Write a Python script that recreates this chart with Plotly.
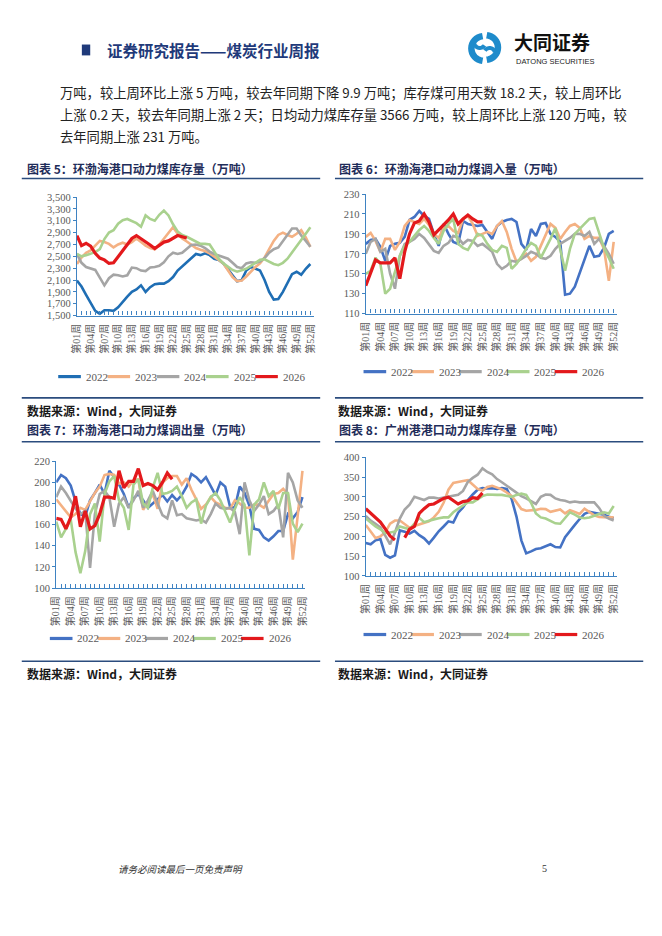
import plotly.graph_objects as go

W, H = 662, 936

weeks = ["第%02d周" % i for i in range(1, 53)]
years = ["2022", "2023", "2024", "2025", "2026"]
week_labels = [w if i % 3 == 0 else "" for i, w in enumerate(weeks)]

# 图表5：环渤海港口动力煤库存量（万吨）
stock_2022 = [2090, 1990, 1850, 1710, 1580, 1530, 1590, 1590, 1580, 1640,
              1740, 1820, 1900, 1940, 2010, 1900, 1980, 2030, 2040, 2040,
              2080, 2150, 2260, 2330, 2400, 2480, 2540, 2520, 2550, 2520,
              2460, 2440, 2380, 2280, 2180, 2080, 2100, 2260, 2320, 2290,
              2260, 2100, 1900, 1770, 1780, 1900, 2050, 2200, 2240, 2190,
              2290, 2370]
stock_2023 = [2370, 2480, 2560, 2600, 2680, 2760, 2740, 2710, 2650, 2700,
              2730, 2700, 2740, 2800, 2740, 2680, 2640, 2620, 2700, 2800,
              2880, 2990, 2880, 2800, 2750, 2700, 2640, 2610, 2590, 2550,
              2500, 2440, 2380, 2260, 2150, 2080, 2090, 2160, 2240, 2320,
              2380, 2480, 2620, 2760, 2860, 2900, 2860, 2830, 2880, 2940,
              2820, 2660]
stock_2024 = [2540, 2390, 2320, 2290, 2270, 2140, 2010, 2130, 2190, 2180,
              2160, 2180, 2310, 2300, 2260, 2250, 2310, 2320, 2340, 2400,
              2500, 2560, 2540, 2560, 2620, 2690, 2700, 2680, 2640, 2580,
              2540, 2510, 2490, 2460, 2390, 2320, 2300, 2380, 2400, 2390,
              2410, 2470, 2560, 2620, 2650, 2760, 2880, 2970, 2970, 2850,
              2760, 2660]
stock_2025 = [2540, 2500, 2520, 2540, 2570, 2620, 2790, 2900, 2940, 3050,
              3110, 3130, 3100, 3060, 3000, 3190, 3130, 3100, 3200, 3270,
              3190, 3040, 2920, 2860, 2830, 2790, 2740, 2710, 2710, 2700,
              2580, 2460, 2380, 2320, 2270, 2240, 2260, 2290, 2340, 2390,
              2440, 2450, 2410, 2370, 2350, 2390, 2460, 2560, 2660, 2770,
              2880, 2990]
stock_2026 = [2850, 2680, 2720, 2670, 2550, 2470, 2440, 2380, 2390, 2490,
              2600, 2700, 2800, 2850, 2800, 2750, 2690, 2630, 2690, 2740,
              2760, 2800, 2850, 2830, 2810]

# 图表6：环渤海港口动力煤调入量（万吨）
inflow_2022 = [180, 184, 185, 177, 163, 178, 180, 181, 187, 204,
               207, 213, 208, 205, 190, 178, 200, 190, 182, 180,
               203, 200, 199, 198, 199, 192, 185, 198, 202, 204,
               205, 202, 180, 174, 195, 188, 200, 201, 190, 187,
               182, 129, 130, 137, 150, 163, 178, 167, 168, 176,
               190, 193]
inflow_2023 = [187, 191, 183, 172, 185, 185, 174, 182, 198, 204,
               202, 200, 205, 199, 190, 186, 196, 198, 193, 191,
               205, 208, 200, 188, 190, 192, 190, 198, 203, 192,
               175, 162, 165, 170, 163, 167, 178, 190, 200, 196,
               185, 192, 198, 200, 196, 185, 188, 186, 186, 175,
               143, 182]
inflow_2024 = [170, 182, 185, 172, 175, 150, 135, 168, 180, 182,
               185, 190, 186, 180, 173, 171, 178, 181, 188, 186,
               180, 184, 183, 178, 180, 176, 172, 160, 155, 158,
               163, 162, 165, 168, 172, 170, 166, 165, 168, 175,
               180, 183, 186, 190, 190, 188, 192, 180, 185, 178,
               170, 160]
inflow_2025 = [150, 153, 166, 160, 130, 135, 152, 168, 178, 182,
               188, 194, 198, 193, 186, 180, 193, 200, 205, 180,
               176, 174, 182, 190, 188, 180, 174, 172, 178, 176,
               155, 160, 167, 175, 181, 178, 166, 175, 185, 196,
               176, 153, 175, 190, 195, 200, 205, 206, 192, 176,
               166, 155]
inflow_2026 = [138, 150, 164, 161, 161, 161, 166, 145, 172, 190,
               201, 203, 210, 202, 189, 194, 198, 204, 210, 200,
               205, 209, 205, 202, 202]

# 图表7：环渤海港口动力煤调出量（万吨）
outflow_2022 = [200, 207, 204, 197, 182, 170, 168, 183, 190, 198,
                189, 211, 205, 198, 189, 176, 185, 189, 183, 176,
                180, 184, 188, 182, 188, 183, 188, 196, 208, 205,
                200, 205, 196, 188, 200, 196, 177, 176, 196, 190,
                178, 156, 155, 148, 145, 149, 154, 154, 170, 166,
                172, 186]
outflow_2023 = [184, 178, 172, 167, 170, 176, 174, 182, 190, 196,
                207, 208, 207, 199, 200, 196, 202, 203, 174, 182,
                189, 175, 200, 204, 206, 206, 198, 204, 193, 184,
                175, 179, 186, 181, 179, 176, 175, 183, 180, 176,
                176, 179, 179, 176, 182, 189, 190, 194, 189, 127,
                168, 211]
outflow_2024 = [186, 196, 190, 183, 175, 170, 173, 119, 170, 189,
                192, 186, 158, 180, 186, 176, 183, 192, 176, 183,
                192, 180, 169, 166, 183, 169, 170, 166, 165, 164,
                165, 162, 170, 180, 176, 175, 176, 172, 151, 200,
                183, 173, 179, 187, 170, 173, 179, 148, 209, 200,
                183, 176]
outflow_2025 = [163, 148, 156, 165, 134, 114, 135, 170, 180, 144,
                189, 201, 206, 183, 176, 155, 198, 203, 180, 176,
                195, 209, 189, 190, 192, 196, 187, 176, 181, 184,
                161, 178, 186, 190, 183, 173, 162, 175, 186, 179,
                131, 179, 184, 200, 187, 192, 175, 190, 190, 161,
                153, 161]
outflow_2026 = [166, 165, 156, 167, 187, 158, 173, 156, 159, 170,
                186, 186, 185, 211, 195, 201, 201, 213, 197, 199,
                197, 193, 200, 209, 203]

# 图表8：广州港港口动力煤库存量（万吨）
gz_2022 = [183, 180, 190, 193, 153, 146, 152, 215, 212, 207,
           214, 203, 195, 182, 197, 213, 225, 238, 235, 260,
           273, 292, 306, 318, 322, 321, 322, 320, 322, 320,
           295, 250, 190, 157, 162, 168, 170, 175, 180, 173,
           172, 198, 215, 229, 244, 257, 262, 260, 258, 255,
           250, 246]
gz_2023 = [229, 213, 196, 200, 210, 232, 240, 240, 230, 222,
           226, 230, 234, 238, 248, 262, 285, 318, 335, 338,
           340, 342, 332, 320, 316, 325, 328, 324, 319, 311,
           302, 286, 269, 265, 266, 267, 270, 269, 262, 265,
           268, 258, 266, 262, 257, 270, 262, 253, 249, 248,
           248, 248]
gz_2024 = [252, 240, 232, 223, 202, 180, 210, 245, 268, 280,
           300, 296, 292, 298, 298, 296, 298, 300, 302, 305,
           315, 338, 348, 356, 372, 363, 357, 345, 337, 328,
           318, 310, 302, 296, 290, 282, 300, 306, 305, 296,
           292, 290, 286, 288, 286, 286, 285, 286, 272, 252,
           245, 240]
gz_2025 = [245, 235, 225, 218, 208, 210, 212, 225, 222, 218,
           232, 247, 236, 240, 243, 246, 248, 248, 261, 270,
           277, 286, 286, 294, 302, 306, 305, 305, 305, 303,
           300, 305, 308, 305, 285, 258, 248, 245, 240, 233,
           232, 248, 261, 255, 248, 246, 248, 252, 257, 261,
           258, 277]
gz_2026 = [270, 259, 248, 236, 219, 201, 191, None, 197, 218,
           225, 258, 270, 280, 282, 290, 296, 299, 290, 282,
           288, 290, 298, 296, 310]

colors_a = ["#1F6EB4", "#F4B183", "#A5A5A5", "#A9D18E", "#E3191C"]
colors_b = ["#4472C4", "#F4B183", "#A5A5A5", "#A9D18E", "#E3191C"]

NAVY = "#1F3A7A"
AXIS = "#3F83C2"
TICK = "#595959"


def px(x):
    return x / W


def py(y):
    return 1 - y / H


panels = [
    dict(series=[stock_2022, stock_2023, stock_2024, stock_2025, stock_2026], colors=colors_a,
         x0=71, x1=312, last=308, top=194.3, bot=314.3, yr=[1500, 3500], dt=200, fmt=",",
         leg_x=52, leg_y=376, pitch=50,
         title="图表 5：环渤海港口动力煤库存量（万吨）", tx=18),
    dict(series=[inflow_2022, inflow_2023, inflow_2024, inflow_2025, inflow_2026], colors=colors_b,
         x0=364.3, x1=619, last=616, top=191.3, bot=312.3, yr=[110, 230], dt=20, fmt="",
         leg_x=362, leg_y=371, pitch=48.5,
         title="图表 6：环渤海港口动力煤调入量（万吨）", tx=335),
    dict(series=[outflow_2022, outflow_2023, outflow_2024, outflow_2025, outflow_2026], colors=colors_b,
         x0=50, x1=302.7, last=300, top=461.7, bot=590, yr=[100, 220], dt=20, fmt="",
         leg_x=43.5, leg_y=641, pitch=48.5,
         title="图表 7：环渤海港口动力煤调出量（万吨）", tx=18),
    dict(series=[gz_2022, gz_2023, gz_2024, gz_2025, gz_2026], colors=colors_b,
         x0=364.3, x1=619, last=616, top=457.7, bot=577.7, yr=[100, 400], dt=50, fmt="",
         leg_x=362, leg_y=637, pitch=48.5,
         title="图表 8：广州港港口动力煤库存量（万吨）", tx=335),
]

fig = go.Figure()
shapes = []
annos = []
layout_axes = {}

for k, p in enumerate(panels, start=1):
    sfx = "" if k == 1 else str(k)
    for yr_name, vals, col in zip(years, p["series"], p["colors"]):
        fig.add_trace(go.Scatter(
            x=weeks[:len(vals)], y=vals, name=yr_name, mode="lines",
            line=dict(color=col, width=3.2 if yr_name == "2026" else 2.6),
            xaxis="x" + sfx, yaxis="y" + sfx, showlegend=False,
            hoverinfo="skip"))
    step = (p["last"] - p["x0"]) / 51
    layout_axes["xaxis" + sfx] = dict(
        domain=[px(p["x0"]), px(p["x1"])], anchor="y" + sfx,
        type="category", categoryorder="array", categoryarray=weeks,
        range=[0, 51 + (p["x1"] - p["last"]) / step],
        tickmode="array", tickvals=weeks, ticktext=week_labels,
        tickangle=-90, ticks="inside", ticklen=4, tickcolor=AXIS, tickwidth=1,
        ticklabelstandoff=3,
        showline=True, linecolor=AXIS, linewidth=1.3, showgrid=False, zeroline=False,
        tickfont=dict(family="Liberation Serif, Noto Sans CJK SC", size=10, color=TICK),
        fixedrange=True)
    layout_axes["yaxis" + sfx] = dict(
        domain=[py(p["bot"]), py(p["top"])], anchor="x" + sfx,
        range=p["yr"], dtick=p["dt"], tick0=p["yr"][0], tickformat=p["fmt"],
        ticks="outside", ticklen=3, tickcolor=AXIS, tickwidth=1,
        showline=True, linecolor=AXIS, linewidth=1.3, showgrid=False, zeroline=False,
        tickfont=dict(family="Liberation Serif", size=10.5, color=TICK),
        fixedrange=True)

    # 图例（手绘，紧凑排列）
    for i, (yr_name, col) in enumerate(zip(years, p["colors"])):
        lx = p["leg_x"] + i * p["pitch"]
        shapes.append(dict(type="line", xref="paper", yref="paper",
                           x0=px(lx), x1=px(lx + 23), y0=py(p["leg_y"]), y1=py(p["leg_y"]),
                           line=dict(color=col, width=3.2)))
        annos.append(dict(x=px(lx + 26), y=py(p["leg_y"]), xref="paper", yref="paper",
                          text=yr_name, showarrow=False, xanchor="left", yanchor="middle",
                          font=dict(family="Liberation Serif", size=11, color=TICK)))

    # 标题
    title_y = 165 if k <= 2 else 430
    annos.append(dict(x=px(p["tx"]), y=py(title_y), xref="paper", yref="paper",
                      text="<b>" + p["title"] + "</b>", showarrow=False,
                      xanchor="left", yanchor="middle",
                      font=dict(family="Noto Sans CJK SC", size=12, color="#1F2D5A")))

# 标题下方和图表底部的分隔线
for (xa, xb) in [(15, 318), (333, 646)]:
    for yy in [175.5, 397.5, 442, 664]:
        shapes.append(dict(type="line", xref="paper", yref="paper",
                           x0=px(xa), x1=px(xb), y0=py(yy), y1=py(yy),
                           line=dict(color="#2B4C7E", width=1.6)))

# 数据来源
for (sx, sy) in [(18, 410), (334, 410), (18, 676), (334, 676)]:
    annos.append(dict(x=px(sx), y=py(sy), xref="paper", yref="paper",
                      text="<b>数据来源：Wind，大同证券</b>", showarrow=False,
                      xanchor="left", yanchor="middle",
                      font=dict(family="Noto Sans CJK SC", size=12, color="#1A1A1A")))

# 页眉
shapes.append(dict(type="rect", xref="paper", yref="paper",
                   x0=px(76), x1=px(84.5), y0=py(51), y1=py(40),
                   fillcolor=NAVY, line=dict(width=0)))
annos.append(dict(x=px(99), y=py(45.5), xref="paper", yref="paper",
                  text="<b>证券研究报告——煤炭行业周报</b>", showarrow=False,
                  xanchor="left", yanchor="middle",
                  font=dict(family="Noto Sans CJK SC", size=15.5, color=NAVY)))

# 标志
LOGO = "#1E8BCB"


def arc(cx, cy, r, a0, a1, n=16):
    import math
    pts = []
    for j in range(n + 1):
        a = math.radians(a0 + (a1 - a0) * j / n)
        pts.append((px(cx + r * math.cos(a)), py(cy - r * math.sin(a))))
    return "M " + " L ".join("%.5f,%.5f" % q for q in pts)


shapes.append(dict(type="path", xref="paper", yref="paper",
                   path=arc(484, 44, 12.5, 95, 265), line=dict(color=LOGO, width=6.5)))
shapes.append(dict(type="path", xref="paper", yref="paper",
                   path=arc(486, 43, 12.5, -85, 85), line=dict(color=LOGO, width=6.5)))
shapes.append(dict(type="path", xref="paper", yref="paper",
                   path=arc(480, 38, 5.5, 200, 330), line=dict(color=LOGO, width=4)))
shapes.append(dict(type="path", xref="paper", yref="paper",
                   path=arc(490, 49, 5.5, 20, 150), line=dict(color=LOGO, width=4)))
annos.append(dict(x=px(514), y=py(37), xref="paper", yref="paper",
                  text="<b>大同证券</b>", showarrow=False, xanchor="left", yanchor="middle",
                  borderpad=0,
                  font=dict(family="Noto Sans CJK SC", size=19, color="#111111")))
annos.append(dict(x=px(516), y=py(57.5), xref="paper", yref="paper",
                  text="DATONG SECURITIES", showarrow=False, xanchor="left", yanchor="middle",
                  borderpad=0,
                  font=dict(family="Liberation Sans", size=7.5, color="#222222")))

# 正文
body = [
    "万吨，较上周环比上涨 5 万吨，较去年同期下降 9.9 万吨；库存煤可用天数 18.2 天，较上周环比",
    "上涨 0.2 天，较去年同期上涨 2 天；日均动力煤库存量 3566 万吨，较上周环比上涨 120 万吨，较",
    "去年同期上涨 231 万吨。",
]
for i, line in enumerate(body):
    annos.append(dict(x=px(52), y=py(89 + 22 * i), xref="paper", yref="paper",
                      text=line, showarrow=False, xanchor="left", yanchor="middle",
                      font=dict(family="Noto Sans CJK SC", size=13.3, color="#222222")))

# 页脚
annos.append(dict(x=px(111), y=py(874), xref="paper", yref="paper",
                  text="<i>请务必阅读最后一页免责声明</i>", showarrow=False,
                  xanchor="left", yanchor="middle",
                  font=dict(family="Noto Sans CJK SC", size=9.5, color="#333333")))
annos.append(dict(x=px(546), y=py(874), xref="paper", yref="paper",
                  text="5", showarrow=False, xanchor="center", yanchor="middle",
                  font=dict(family="Liberation Serif", size=10, color="#333333")))

fig.update_layout(
    width=W, height=H, autosize=False,
    margin=dict(l=0, r=0, t=0, b=0),
    paper_bgcolor="white", plot_bgcolor="white",
    font=dict(family="Noto Sans CJK SC"),
    showlegend=False,
    shapes=shapes, annotations=annos,
    **layout_axes)

fig.write_html("out.html", config={"displayModeBar": False},
               post_script="document.body.style.margin='0';")
